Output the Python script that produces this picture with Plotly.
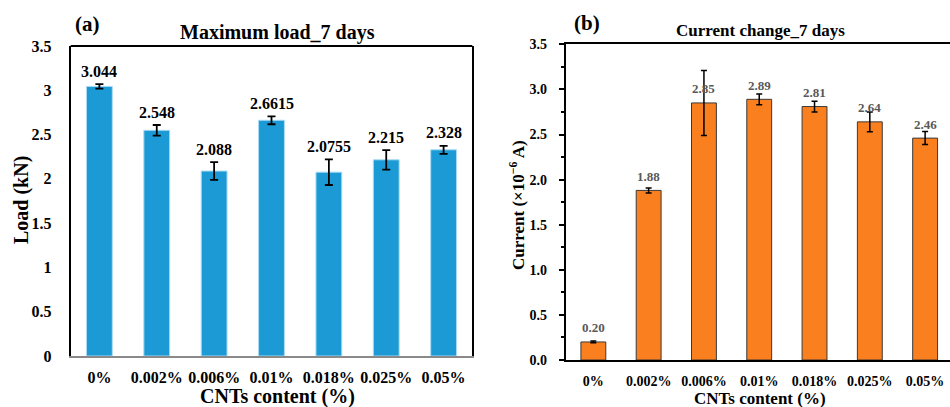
import plotly.graph_objects as go

categories = ["0%", "0.002%", "0.006%", "0.01%", "0.018%", "0.025%", "0.05%"]
load_values = [3.044, 2.548, 2.088, 2.6615, 2.0755, 2.215, 2.328]
load_errors = [0.025, 0.06, 0.10, 0.045, 0.145, 0.11, 0.045]
load_labels = ["3.044", "2.548", "2.088", "2.6615", "2.0755", "2.215", "2.328"]
current_values = [0.20, 1.88, 2.85, 2.89, 2.81, 2.64, 2.46]
current_errors = [0.01, 0.028, 0.36, 0.06, 0.06, 0.11, 0.072]
current_labels = ["0.20", "1.88", "2.85", "2.89", "2.81", "2.64", "2.46"]

W, H = 950, 407
FONT = "Liberation Serif"

def px_x(p):
    return p / W

def px_y(p):
    return (H - p) / H

fig = go.Figure()

fig.add_trace(go.Bar(
    x=categories, y=load_values, width=0.45,
    marker=dict(color="#1B9AD6", line=dict(color="#A9DBF3", width=1)),
    error_y=dict(type="data", array=load_errors, color="black", thickness=1.8, width=4),
    xaxis="x", yaxis="y", showlegend=False,
))
fig.add_trace(go.Bar(
    x=categories, y=current_values, width=0.45,
    marker=dict(color="#FA7F1E", line=dict(color="#3A3A3A", width=1)),
    error_y=dict(type="data", array=current_errors, color="black", thickness=1.5, width=3),
    xaxis="x2", yaxis="y2", showlegend=False,
))

annotations = []
for c, v, e, t in zip(categories, load_values, load_errors, load_labels):
    annotations.append(dict(x=c, y=v + e, xref="x", yref="y", text=t, showarrow=False,
                            yanchor="middle", yshift=13,
                            font=dict(family=FONT, size=16, color="black", weight="bold")))
for c, v, t in zip(categories, current_values, current_labels):
    annotations.append(dict(x=c, y=v, xref="x2", yref="y2", text=t, showarrow=False,
                            yanchor="middle", yshift=14,
                            font=dict(family=FONT, size=13, color="#595959", weight="bold")))

def txt(x, y, text, size, angle=0, xanchor="center"):
    return dict(x=px_x(x), y=px_y(y), xref="paper", yref="paper", text=text, showarrow=False,
                xanchor=xanchor, yanchor="middle", textangle=angle,
                font=dict(family=FONT, size=size, color="black", weight="bold"))

annotations += [
    txt(73, 24, "(a)", 21, xanchor="left"),
    txt(277, 33, "Maximum load_7 days", 20),
    txt(277, 396, "CNTs content (%)", 20),
    txt(22, 200, "Load (kN)", 20, angle=-90),
    txt(572, 23, "(b)", 21, xanchor="left"),
    txt(760, 30, "Current change_7 days", 17),
    txt(760, 398, "CNTs content (%)", 17),
    txt(517, 205, "Current (×10<sup>−6</sup> A)", 17, angle=-90),
]

tickfont_a = dict(family=FONT, size=16, color="black", weight="bold")
tickfont_b = dict(family=FONT, size=14, color="black", weight="bold")

fig.update_layout(
    template="none",
    width=W, height=H, margin=dict(l=0, r=0, t=0, b=0, pad=0),
    paper_bgcolor="white", plot_bgcolor="white",
    bargap=0.55,
    xaxis=dict(domain=[px_x(70.7), px_x(472.3)], anchor="y", type="category",
               range=[-0.5, 6.5], showgrid=False, showline=True, linecolor="#8A8A8A",
               linewidth=1.5, ticks="", tickfont=tickfont_a, ticklabelstandoff=6,
               automargin=False, fixedrange=True),
    yaxis=dict(domain=[px_y(356), px_y(46)], anchor="x", range=[0, 3.5], dtick=0.5,
               showgrid=False, showline=True, mirror=True, linecolor="black", linewidth=2,
               ticks="", tickfont=tickfont_a, ticklabelstandoff=14, zeroline=False,
               automargin=False),
    xaxis2=dict(domain=[px_x(565.7), 1.0], anchor="y2", type="category",
                range=[-0.5, 6.45], showgrid=False, showline=True, mirror=True,
                linecolor="black", linewidth=2, ticks="", tickfont=tickfont_b,
                ticklabelstandoff=7, automargin=False),
    yaxis2=dict(domain=[px_y(360), px_y(44.3)], anchor="x2", range=[0, 3.5], dtick=0.5,
                tickformat=".1f", showgrid=False, showline=True, linecolor="black",
                linewidth=2, ticks="outside", ticklen=5, tickwidth=1.5, tickcolor="black",
                minor=dict(dtick=0.25, ticks="outside", ticklen=3, tickwidth=1.5,
                           tickcolor="black", showgrid=False),
                tickfont=tickfont_b, ticklabelstandoff=9, zeroline=False,
                automargin=False),
    annotations=annotations,
    shapes=[dict(type="line", xref="paper", yref="paper", x0=px_x(70.7), x1=px_x(472.3),
                 y0=px_y(46), y1=px_y(46), line=dict(color="black", width=2))],
)

fig.write_html("out.html")
